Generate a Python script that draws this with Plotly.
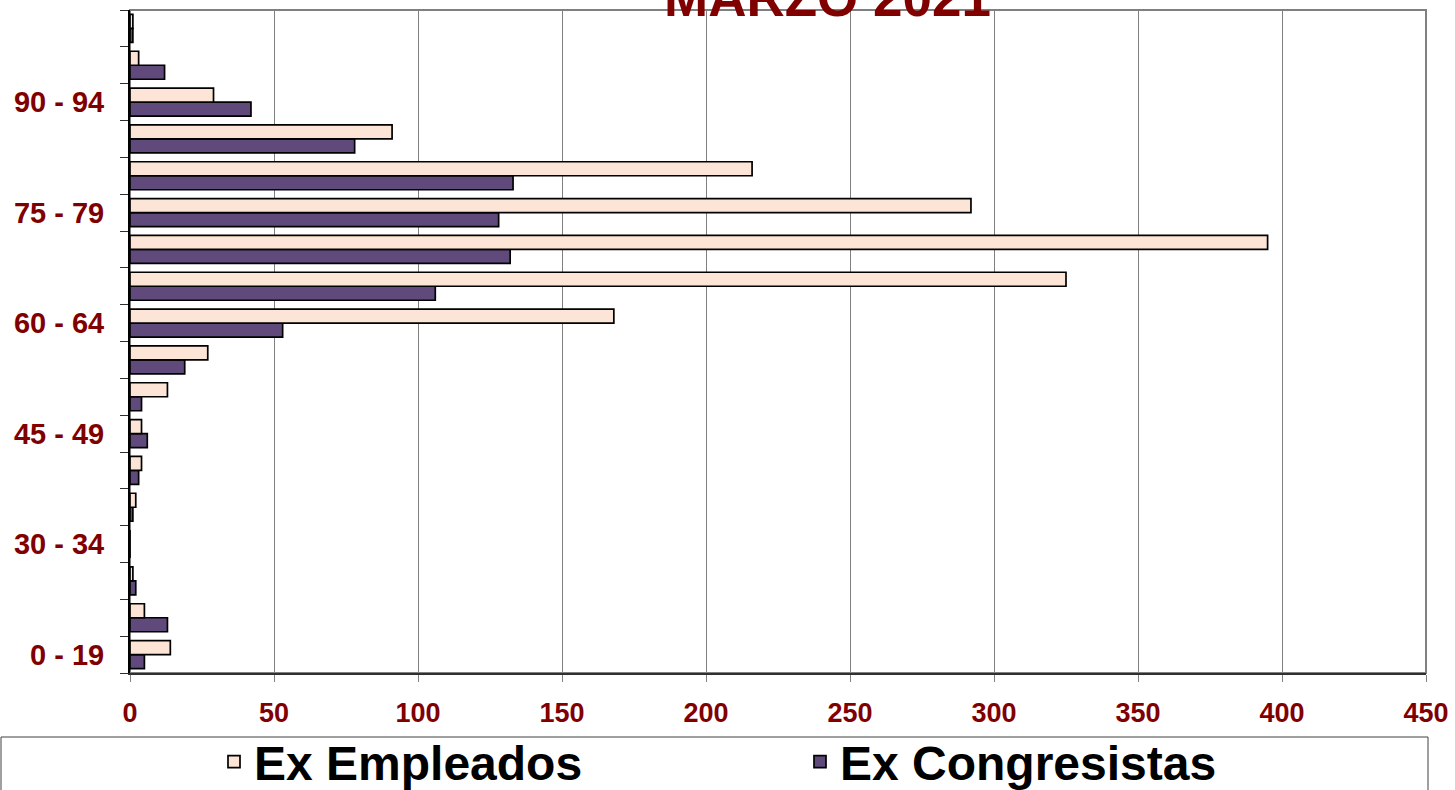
import plotly.graph_objects as go

age_groups = ["0 - 19", "20 - 24", "25 - 29", "30 - 34", "35 - 39", "40 - 44",
              "45 - 49", "50 - 54", "55 - 59", "60 - 64", "65 - 69", "70 - 74",
              "75 - 79", "80 - 84", "85 - 89", "90 - 94", "95 - 99", "100 +"]
y_tick_labels = ["0 - 19", "", "", "30 - 34", "", "", "45 - 49", "", "",
                 "60 - 64", "", "", "75 - 79", "", "", "90 - 94", "", ""]
ex_empleados = [14, 5, 1, 0, 2, 4, 4, 13, 27, 168, 325, 395, 292, 216, 91, 29, 3, 1]
ex_congresistas = [5, 13, 2, 0, 1, 3, 6, 4, 19, 53, 106, 132, 128, 133, 78, 42, 12, 1]
x_ticks = [0, 50, 100, 150, 200, 250, 300, 350, 400, 450]
title_text = "MARZO 2021"

W, H = 1455, 790
ML, MR, MT, MB = 130, 29, 10, 117
PW = W - ML - MR
PH = H - MT - MB

DARKRED = "#800000"
FONT = "Liberation Sans"

fig = go.Figure()
fig.add_trace(go.Bar(
    y=age_groups, x=ex_congresistas, orientation="h", name="Ex Congresistas",
    marker=dict(color="#604A7B", line=dict(color="black", width=1.7)),
))
fig.add_trace(go.Bar(
    y=age_groups, x=ex_empleados, orientation="h", name="Ex Empleados",
    marker=dict(color="#FCE4D6", line=dict(color="black", width=1.7)),
))

# plot frame (gray top/right)
fig.add_shape(type="rect", xref="paper", yref="paper", x0=0, x1=1, y0=0, y1=1,
              line=dict(color="#808080", width=2), layer="below")
# legend frame
fig.add_shape(type="rect", xref="paper", yref="paper",
              x0=(1 - ML) / PW, x1=(1428 - ML) / PW,
              y0=(MT + PH - 737) / PH, y1=(MT + PH - 800) / PH,
              line=dict(color="#404040", width=1))

fig.add_annotation(text=title_text, xref="paper", yref="paper",
                   x=(828 - ML) / PW, y=1 + 13 / PH, xanchor="center", yanchor="middle",
                   showarrow=False,
                   font=dict(family=FONT, size=53, color=DARKRED, weight=700))

fig.update_layout(
    width=W, height=H,
    margin=dict(l=ML, r=MR, t=MT, b=MB, pad=0, autoexpand=False),
    paper_bgcolor="white", plot_bgcolor="white",
    barmode="group", bargap=0.24, bargroupgap=0,
    showlegend=True,
    legend=dict(orientation="h", traceorder="reversed",
                x=(214 - ML) / PW, xanchor="left",
                y=(MT + PH - 724) / PH, yanchor="top",
                entrywidth=541, entrywidthmode="pixels",
                font=dict(family=FONT, size=48, color="black", weight=700),
                bgcolor="rgba(0,0,0,0)", borderwidth=0),
    xaxis=dict(range=[0, 450], tickvals=x_ticks, showgrid=True,
               gridcolor="#808080", gridwidth=1, zeroline=False,
               showline=True, linecolor="#303030", linewidth=2,
               ticks="outside", ticklen=7, tickcolor="#808080", tickwidth=1,
               ticklabelstandoff=8,
               tickfont=dict(family=FONT, size=27, color=DARKRED, weight=700)),
    yaxis=dict(type="category", categoryorder="array", categoryarray=age_groups,
               tickvals=age_groups, ticktext=y_tick_labels,
               tickson="boundaries", range=[-0.5, len(age_groups) - 0.5],
               showgrid=False, zeroline=False,
               showline=True, linecolor="black", linewidth=2,
               ticks="outside", ticklen=8, tickcolor="#303030", tickwidth=1,
               ticklabelstandoff=18,
               tickfont=dict(family=FONT, size=29, color=DARKRED, weight=700)),
)

fig.write_html("out.html", config={"displayModeBar": False},
               post_script="document.body.style.margin='0';document.body.style.overflow='hidden';")
